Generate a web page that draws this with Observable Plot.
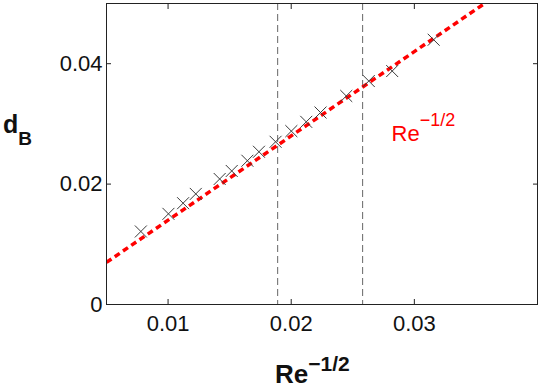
<!DOCTYPE html>
<html><head><meta charset="utf-8">
<script src="https://cdn.jsdelivr.net/npm/d3@7"></script>
<script src="https://cdn.jsdelivr.net/npm/@observablehq/plot@0.6"></script>
<style>body{margin:0;background:#fff}</style>
</head><body><div id="chart"></div>
<script>
// measured points: Re^{-1/2} vs d_B
const reInvSqrt = [0.00779, 0.01003, 0.01122, 0.01225, 0.01419, 0.01517, 0.01644, 0.01738,
                   0.01873, 0.02001, 0.02122, 0.02238, 0.02447, 0.0263, 0.0282, 0.03157];
const dB = [0.01213, 0.01506, 0.01683, 0.01837, 0.02085, 0.02218, 0.02388, 0.02537,
            0.02703, 0.0288, 0.03034, 0.03189, 0.03464, 0.03712, 0.03878, 0.04398];
// fitted Re^{-1/2} line (endpoints)
const fitX = [0.005, 0.0357];
const fitY = [0.007, 0.05];
// vertical reference lines
const refLines = [0.0189, 0.0258];
const xTicks = [0.01, 0.02, 0.03];
const yTicks = [0, 0.02, 0.04];

const points = reInvSqrt.map((x, i) => ({x, y: dB[i]}));
const fit = fitX.map((x, i) => ({x, y: fitY[i]}));
const fmt = d => (d === 0 ? "0" : String(d));

const font = "'Liberation Sans', Arial, Helvetica, sans-serif";
const plot = Plot.plot({
  width: 540, height: 392,
  marginLeft: 106, marginRight: 3, marginTop: 3, marginBottom: 88,
  style: {fontFamily: font, fontSize: "22px", color: "#111", background: "#fff"},
  x: {domain: [0.005, 0.04]},
  y: {domain: [0, 0.05]},
  marks: [
    Plot.ruleX(refLines, {stroke: "#666", strokeWidth: 1, strokeDasharray: "7,4"}),
    Plot.line(fit, {x: "x", y: "y", stroke: "#ff0000", strokeWidth: 3.5, strokeDasharray: "6,4", strokeLinecap: "butt", clip: true}),
    Plot.dot(points, {x: "x", y: "y", symbol: "times", r: 5.5, stroke: "#3a3a3a", strokeWidth: 1}),
    Plot.axisX(xTicks, {anchor: "bottom", tickSize: 0, tickPadding: 11, label: null, fontSize: 22, tickFormat: fmt}),
    Plot.axisY(yTicks, {anchor: "left", tickSize: 0, tickPadding: 4, label: null, fontSize: 22, tickFormat: fmt}),
    Plot.axisX(xTicks, {anchor: "bottom", tickSize: -5, text: null, label: null, stroke: "#222"}),
    Plot.axisX(xTicks, {anchor: "top", tickSize: -5, text: null, label: null, stroke: "#222"}),
    Plot.axisY(yTicks, {anchor: "left", tickSize: -5, text: null, label: null, stroke: "#222"}),
    Plot.axisY(yTicks, {anchor: "right", tickSize: -5, text: null, label: null, stroke: "#222"}),
    Plot.frame({stroke: "#222", strokeWidth: 1})
  ]
});
document.getElementById("chart").appendChild(plot);

const svg = d3.select(plot);
// x axis label
const xl = svg.append("text").attr("x", 275).attr("y", 383).attr("text-anchor", "start")
  .attr("font-family", font).attr("font-weight", "bold").attr("fill", "#111");
xl.append("tspan").attr("font-size", 26).text("Re");
xl.append("tspan").attr("font-size", 21).attr("dy", -12).text("\u22121/2");
// y axis label
const yl = svg.append("text").attr("x", 3).attr("y", 133).attr("text-anchor", "start")
  .attr("font-family", font).attr("font-weight", "bold").attr("fill", "#111");
yl.append("tspan").attr("font-size", 25).text("d");
yl.append("tspan").attr("font-size", 19).attr("dy", 12).text("B");
// red in-plot label
const rl = svg.append("text").attr("x", 391.5).attr("y", 141).attr("text-anchor", "start")
  .attr("font-family", font).attr("fill", "#ff0000");
rl.append("tspan").attr("font-size", 22).text("Re");
rl.append("tspan").attr("font-size", 18).attr("dy", -15).text("\u22121/2");
</script>
</body></html>
